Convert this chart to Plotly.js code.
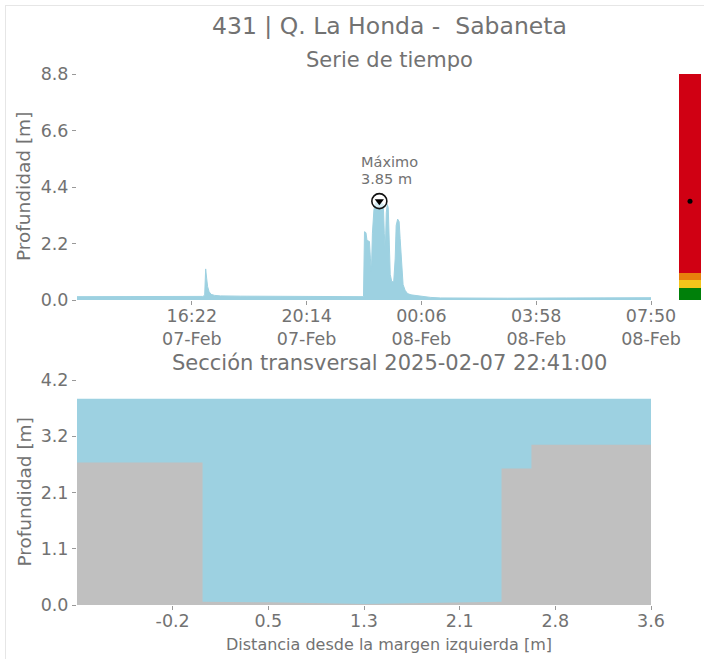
<!DOCTYPE html>
<html>
<head>
<meta charset="utf-8">
<script src="https://cdn.plot.ly/plotly-3.0.1.min.js"></script>
<style>
html, body { margin: 0; padding: 0; overflow: hidden; background: #fff; }
#wrap { position: absolute; left: 5px; top: 5px; width: 760px; height: 720px; border: 1px solid #e6e6e6; background: #fff; }
#chart { width: 700px; height: 660px; }
</style>
</head>
<body>
<div id="wrap"><div id="chart"></div></div>
<script>
// ---------- Data: time series (depth in m) ----------
const seriesTimes = [
  '2025-02-07 12:30','2025-02-07 13:30','2025-02-07 14:30','2025-02-07 15:30','2025-02-07 16:30',
  '2025-02-07 16:44','2025-02-07 16:48','2025-02-07 16:50','2025-02-07 16:52','2025-02-07 16:54',
  '2025-02-07 16:57','2025-02-07 17:01','2025-02-07 17:08','2025-02-07 17:20','2025-02-07 18:00',
  '2025-02-07 19:00','2025-02-07 20:00','2025-02-07 21:00','2025-02-07 22:00','2025-02-07 22:09',
  '2025-02-07 22:11','2025-02-07 22:14','2025-02-07 22:16','2025-02-07 22:21','2025-02-07 22:23',
  '2025-02-07 22:25','2025-02-07 22:27','2025-02-07 22:30','2025-02-07 22:33','2025-02-07 22:37',
  '2025-02-07 22:41','2025-02-07 22:45','2025-02-07 22:49','2025-02-07 22:51','2025-02-07 22:53',
  '2025-02-07 22:55','2025-02-07 22:57','2025-02-07 22:59','2025-02-07 23:01','2025-02-07 23:03',
  '2025-02-07 23:06','2025-02-07 23:10','2025-02-07 23:13','2025-02-07 23:15','2025-02-07 23:18',
  '2025-02-07 23:21','2025-02-07 23:23','2025-02-07 23:26','2025-02-07 23:29','2025-02-07 23:33',
  '2025-02-07 23:38','2025-02-07 23:45','2025-02-07 23:55','2025-02-08 00:10','2025-02-08 00:25',
  '2025-02-08 00:45','2025-02-08 01:30','2025-02-08 03:00','2025-02-08 05:00','2025-02-08 07:00',
  '2025-02-08 07:50'
];
const seriesDepth = [
  0.13, 0.13, 0.12, 0.13, 0.13,
  0.14, 0.18, 1.21, 0.85, 0.52,
  0.32, 0.22, 0.18, 0.16, 0.15,
  0.14, 0.14, 0.13, 0.13, 0.13,
  2.66, 2.62, 2.32, 2.28, 1.60,
  1.10, 2.60, 3.50, 3.78, 3.82,
  3.85, 3.78, 3.72, 2.60, 1.85,
  3.40, 3.72, 3.60, 2.40, 1.00,
  0.72, 0.70, 1.60, 2.90, 3.15,
  3.05, 2.40, 1.20, 0.60, 0.38,
  0.25, 0.20, 0.17, 0.14, 0.10,
  0.08, 0.07, 0.07, 0.08, 0.09,
  0.09
];
const timeTickVals = ['2025-02-07 16:22','2025-02-07 20:14','2025-02-08 00:06','2025-02-08 03:58','2025-02-08 07:50'];
const timeTickText = ['16:22<br>07-Feb','20:14<br>07-Feb','00:06<br>08-Feb','03:58<br>08-Feb','07:50<br>08-Feb'];
const timeRange = ['2025-02-07 12:30','2025-02-08 07:50'];

// ---------- Data: alert levels (upper limits, m) ----------
const levelNames  = ['Verde','Amarillo','Naranja','Rojo'];
const levelTops   = [0.45, 0.78, 1.06, 8.8];
const levelColors = ['#00800a','#f4c51b','#e8800c','#d00013'];

// ---------- Data: cross section (ground profile) ----------
const sectionX = [-1.008, 0.0, 0.0, 0.54, 1.30, 2.17, 2.40, 2.40, 2.64, 2.64, 3.6];
const sectionY = [2.66, 2.66, 0.06, 0.05, 0.02, 0.05, 0.06, 2.55, 2.55, 2.99, 2.99];
const sectionXTicks = [-0.24, 0.528, 1.296, 2.064, 2.832, 3.6];
const sectionXTickText = ['-0.2','0.5','1.3','2.1','2.8','3.6'];
const sectionYTicks = [0, 1.05, 2.1, 3.15, 4.2];
const sectionYTickText = ['0.0','1.1','2.1','3.2','4.2'];

// ---------- Derived ----------
let iMax = 0;
seriesDepth.forEach((v, i) => { if (v > seriesDepth[iMax]) iMax = i; });
const maxDepth = seriesDepth[iMax];
const maxTime = seriesTimes[iMax];

const blue = 'rgb(157,209,225)';
const gray = '#c0c0c0';
const txt = '#727272';
const FONT = 'DejaVu Sans, sans-serif';

const traces = [];
// time series
traces.push({
  x: seriesTimes, y: seriesDepth, type: 'scatter', mode: 'lines',
  fill: 'tozeroy', fillcolor: blue, line: {color: blue, width: 1},
  xaxis: 'x', yaxis: 'y', hoverinfo: 'x+y'
});
// max marker
traces.push({
  x: [maxTime], y: [maxDepth], type: 'scatter', mode: 'markers',
  marker: {symbol: 'circle', size: 15, color: 'rgba(255,255,255,0.6)', line: {color: '#111', width: 1.6}},
  xaxis: 'x', yaxis: 'y', hoverinfo: 'skip'
});
traces.push({
  x: [maxTime], y: [maxDepth], type: 'scatter', mode: 'markers',
  marker: {symbol: 'triangle-down', size: 8, color: '#000'},
  xaxis: 'x', yaxis: 'y', hoverinfo: 'skip'
});
// alert level bar
levelTops.forEach((top, i) => {
  const base = i === 0 ? 0 : levelTops[i - 1];
  traces.push({
    x: [0], y: [top - base], base: [base], type: 'bar', width: 1,
    marker: {color: levelColors[i], line: {width: 0}}, name: levelNames[i],
    xaxis: 'x3', yaxis: 'y3', hoverinfo: 'name'
  });
});
traces.push({
  x: [0], y: [maxDepth], type: 'scatter', mode: 'markers',
  marker: {size: 5, color: '#000'}, xaxis: 'x3', yaxis: 'y3', hoverinfo: 'skip'
});
// cross section: water then ground
traces.push({
  x: [sectionX[0], sectionX[sectionX.length - 1]], y: [maxDepth, maxDepth],
  type: 'scatter', mode: 'lines', fill: 'tozeroy', fillcolor: blue,
  line: {color: blue, width: 0}, xaxis: 'x2', yaxis: 'y2', hoverinfo: 'skip'
});
traces.push({
  x: sectionX, y: sectionY, type: 'scatter', mode: 'lines', fill: 'tozeroy',
  fillcolor: gray, line: {color: gray, width: 0}, xaxis: 'x2', yaxis: 'y2'
});

const W = 700, H = 660;
const px = v => v / W;
const py = v => 1 - v / H;

const axisCommon = {
  showgrid: false, zeroline: false, showline: false,
  ticks: 'outside', ticklen: 4, tickwidth: 1, tickcolor: '#999',
  tickfont: {family: FONT, size: 17.5, color: txt}
};

const layout = {
  width: W, height: H,
  margin: {l: 0, r: 0, t: 0, b: 0, pad: 0},
  paper_bgcolor: '#fff', plot_bgcolor: '#fff',
  showlegend: false, barmode: 'overlay', bargap: 0,
  font: {family: FONT, color: txt},
  xaxis: Object.assign({}, axisCommon, {
    type: 'date', domain: [px(71), px(645)], range: timeRange,
    tickvals: timeTickVals, ticktext: timeTickText, anchor: 'y', ticklabelstandoff: -4
  }),
  yaxis: Object.assign({}, axisCommon, {
    domain: [py(294), py(68)], range: [0, 8.8], tick0: 0, dtick: 2.2,
    tickformat: '.1f', anchor: 'x'
  }),
  xaxis3: {domain: [px(673), px(695)], range: [-0.5, 0.5], visible: false, anchor: 'y3', fixedrange: true},
  yaxis3: {domain: [py(294), py(68)], range: [0, 8.8], visible: false, anchor: 'x3', fixedrange: true},
  xaxis2: Object.assign({}, axisCommon, {
    domain: [px(71), px(645)], range: [sectionX[0], sectionX[sectionX.length - 1]],
    tickvals: sectionXTicks, ticktext: sectionXTickText, anchor: 'y2', ticklabelstandoff: -4
  }),
  yaxis2: Object.assign({}, axisCommon, {
    domain: [py(599), py(374)], range: [0, 4.2],
    tickvals: sectionYTicks, ticktext: sectionYTickText, anchor: 'x2'
  }),
  annotations: [
    {text: '431 | Q. La Honda -  Sabaneta', xref: 'paper', yref: 'paper', x: px(383.5), y: py(20),
     xanchor: 'center', yanchor: 'middle', showarrow: false, font: {family: FONT, size: 23.5, color: txt}},
    {text: 'Serie de tiempo', xref: 'paper', yref: 'paper', x: px(383), y: py(54),
     xanchor: 'center', yanchor: 'middle', showarrow: false, font: {family: FONT, size: 21, color: txt}},
    {text: 'Sección transversal ' + maxTime + ':00', xref: 'paper', yref: 'paper', x: px(383), y: py(357),
     xanchor: 'center', yanchor: 'middle', showarrow: false, font: {family: FONT, size: 21, color: txt}},
    {text: 'Distancia desde la margen izquierda [m]', xref: 'paper', yref: 'paper', x: px(383), y: py(638),
     xanchor: 'center', yanchor: 'middle', showarrow: false, font: {family: FONT, size: 16, color: txt}},
    {text: 'Profundidad [m]', xref: 'paper', yref: 'paper', x: px(18), y: py(181), textangle: -90,
     xanchor: 'center', yanchor: 'middle', showarrow: false, font: {family: FONT, size: 18.5, color: txt}},
    {text: 'Profundidad [m]', xref: 'paper', yref: 'paper', x: px(18), y: py(486.5), textangle: -90,
     xanchor: 'center', yanchor: 'middle', showarrow: false, font: {family: FONT, size: 18.5, color: txt}},
    {text: 'Máximo', xref: 'x', yref: 'y', x: maxTime, y: maxDepth, xshift: -20, yshift: 39,
     xanchor: 'left', yanchor: 'middle', showarrow: false, font: {family: FONT, size: 14.5, color: txt}},
    {text: maxDepth.toFixed(2) + ' m', xref: 'x', yref: 'y', x: maxTime, y: maxDepth, xshift: -20, yshift: 22,
     xanchor: 'left', yanchor: 'middle', showarrow: false, font: {family: FONT, size: 14.5, color: txt}}
  ]
};

Plotly.newPlot('chart', traces, layout, {displayModeBar: false, staticPlot: true});
</script>
</body>
</html>
